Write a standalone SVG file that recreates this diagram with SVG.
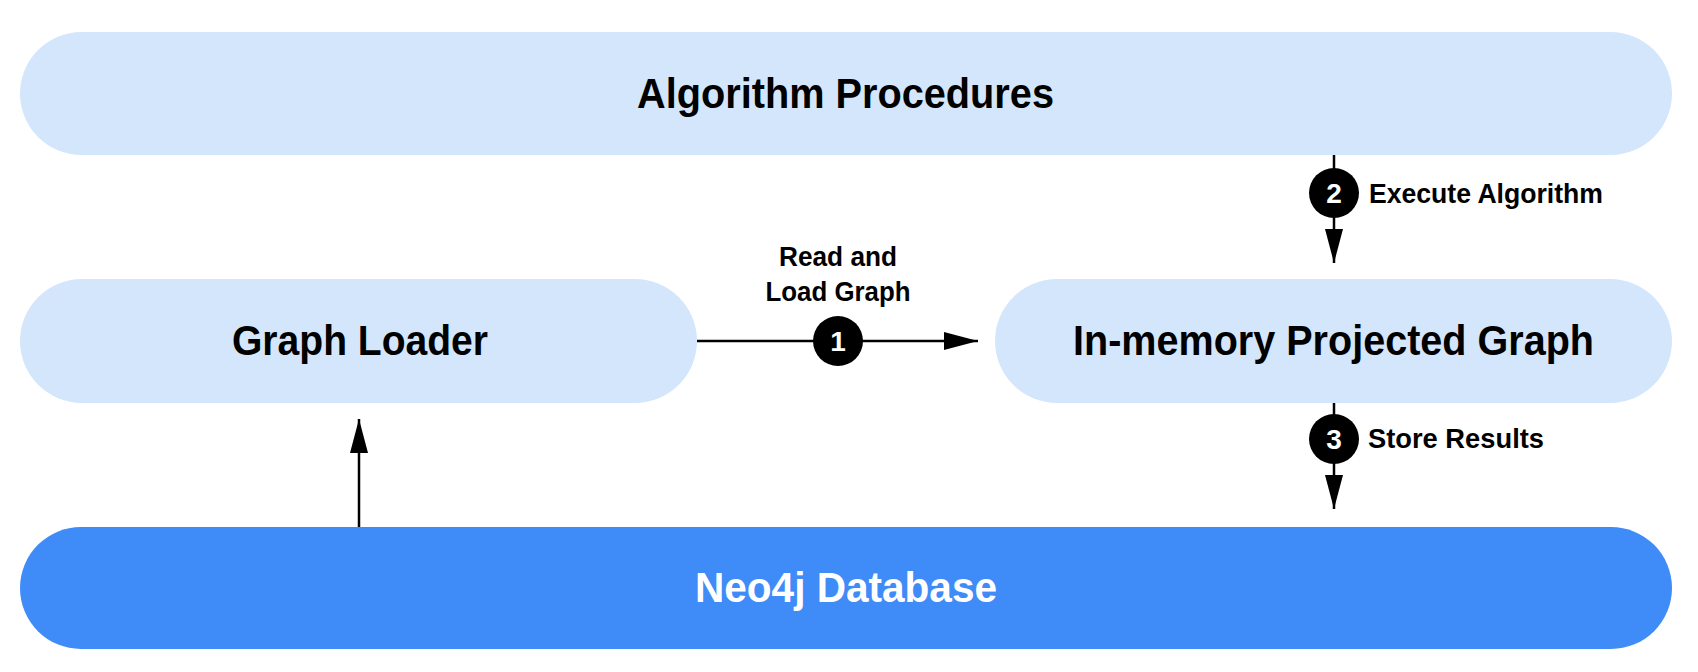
<svg xmlns="http://www.w3.org/2000/svg" width="1698" height="672" viewBox="0 0 1698 672">
  <style>
    .pill { fill: #D3E6FC; }
    .db { fill: #3F8BF7; }
    .title { font-family: "Liberation Sans", Arial, sans-serif; font-weight: bold; font-size: 42px; fill: #000; text-anchor: middle; }
    .title-w { fill: #fff; }
    .lbl { font-family: "Liberation Sans", Arial, sans-serif; font-weight: bold; font-size: 27px; fill: #000; }
    .num { font-family: "Liberation Sans", Arial, sans-serif; font-weight: bold; font-size: 28px; fill: #fff; text-anchor: middle; }
    .edge { stroke: #000; stroke-width: 2.5; fill: none; }
    .badge { fill: #000; }
  </style>
  <defs>
    <marker id="arrow" markerUnits="userSpaceOnUse" markerWidth="34" markerHeight="18" viewBox="0 0 34 18" refX="34" refY="9" orient="auto">
      <path d="M0,0 L34,9 L0,18 Z" fill="#000"/>
    </marker>
  </defs>

  <g id="algorithm-procedures">
    <rect class="pill" x="20" y="32" width="1652" height="123" rx="61.5" ry="61.5"/>
    <text class="title" x="845.5" y="108" textLength="417" lengthAdjust="spacingAndGlyphs">Algorithm Procedures</text>
  </g>

  <g id="graph-loader">
    <rect class="pill" x="20" y="279" width="677" height="124" rx="62" ry="62"/>
    <text class="title" x="360" y="355" textLength="256" lengthAdjust="spacingAndGlyphs">Graph Loader</text>
  </g>

  <g id="in-memory-graph">
    <rect class="pill" x="995" y="279" width="677" height="124" rx="62" ry="62"/>
    <text class="title" x="1333.5" y="355" textLength="521" lengthAdjust="spacingAndGlyphs">In-memory Projected Graph</text>
  </g>

  <g id="neo4j-database">
    <rect class="db" x="20" y="527" width="1652" height="122" rx="61" ry="61"/>
    <text class="title title-w" x="846" y="602" textLength="302" lengthAdjust="spacingAndGlyphs">Neo4j Database</text>
  </g>

  <g id="connectors">
    <!-- 1: Graph Loader -> In-memory -->
    <line class="edge" x1="697" y1="341" x2="978" y2="341" marker-end="url(#arrow)"/>
    <circle class="badge" cx="838" cy="341" r="25"/>
    <text class="num" x="838" y="351">1</text>
    <text class="lbl" x="838" y="266" text-anchor="middle" textLength="118" lengthAdjust="spacingAndGlyphs">Read and</text>
    <text class="lbl" x="838" y="301" text-anchor="middle" textLength="145" lengthAdjust="spacingAndGlyphs">Load Graph</text>

    <!-- 2: Algorithm Procedures -> In-memory -->
    <line class="edge" x1="1334" y1="155" x2="1334" y2="263" marker-end="url(#arrow)"/>
    <circle class="badge" cx="1334" cy="193" r="25"/>
    <text class="num" x="1334" y="203">2</text>
    <text class="lbl" x="1369" y="203" textLength="234" lengthAdjust="spacingAndGlyphs">Execute Algorithm</text>

    <!-- 3: In-memory -> Neo4j -->
    <line class="edge" x1="1334" y1="403" x2="1334" y2="509" marker-end="url(#arrow)"/>
    <circle class="badge" cx="1334" cy="439" r="25"/>
    <text class="num" x="1334" y="449">3</text>
    <text class="lbl" x="1368" y="448" textLength="176" lengthAdjust="spacingAndGlyphs">Store Results</text>

    <!-- Neo4j -> Graph Loader -->
    <line class="edge" x1="359" y1="527" x2="359" y2="419" marker-end="url(#arrow)"/>
  </g>
</svg>
